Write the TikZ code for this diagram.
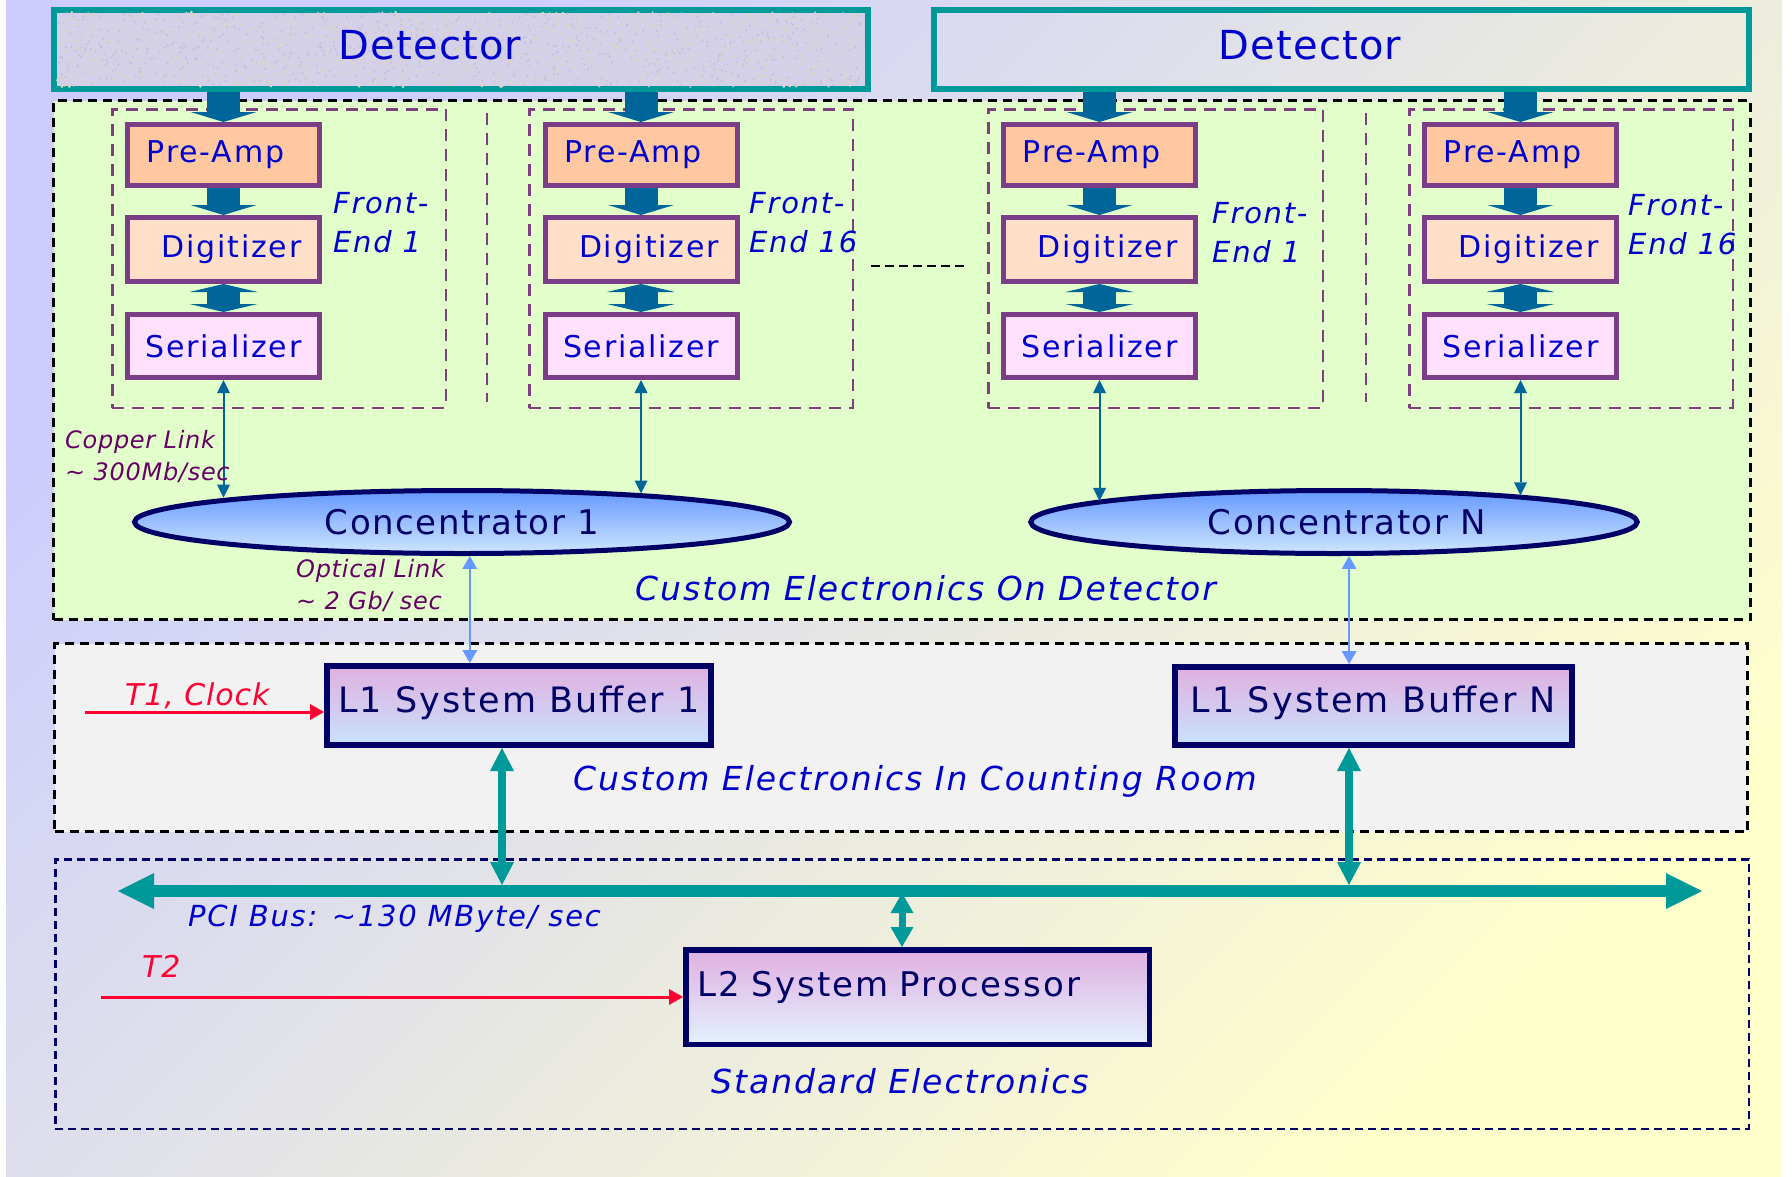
\documentclass[tikz,border=0pt]{standalone}
\usepackage{fontspec}
\setmainfont{DejaVu Sans}[LetterSpace=6.0]
\newfontfamily\tightfont{DejaVu Sans}[LetterSpace=3.0]
\newfontfamily\concfont{DejaVu Sans}[LetterSpace=4.5]
\usetikzlibrary{arrows.meta,shapes.geometric}

\definecolor{bgLav}{HTML}{CCCCFF}
\definecolor{bgYel}{HTML}{FFFFCC}
\definecolor{detTeal}{HTML}{009999}
\definecolor{detStone}{HTML}{D3D0E8}
\definecolor{speckA}{HTML}{DDD5C4}
\definecolor{speckB}{HTML}{C4C0D8}
\definecolor{onDetGreen}{HTML}{E2FFCB}
\definecolor{roomGrey}{HTML}{F2F2F2}
\definecolor{stdNavy}{HTML}{000066}
\definecolor{fePurple}{HTML}{7F3F7F}
\definecolor{boxPurple}{HTML}{7B3D87}
\definecolor{preampFill}{HTML}{FFC8A0}
\definecolor{digiFill}{HTML}{FFDFC8}
\definecolor{serFill}{HTML}{FFE0FF}
\definecolor{textBlue}{HTML}{0000CC}
\definecolor{flowBlue}{HTML}{006699}
\definecolor{opticBlue}{HTML}{6699FF}
\definecolor{linkPurple}{HTML}{660066}
\definecolor{sigRed}{HTML}{FF0033}
\definecolor{concTop}{HTML}{6699FF}
\definecolor{concBot}{HTML}{CFE6FF}
\definecolor{bufTop}{HTML}{E0B0E0}
\definecolor{bufBot}{HTML}{C8E2FC}
\definecolor{procBot}{HTML}{E3F1FF}

\newcommand\fsz[2]{\fontsize{#1}{#2}\selectfont}

\begin{document}
\begin{tikzpicture}[x=1pt, y=-1pt,
  region/.style={rectangle, draw=black, line width=3pt,
    dash pattern=on 9pt off 6pt, inner sep=0pt},
  stdregion/.style={rectangle, draw=stdNavy, line width=2.5pt,
    dash pattern=on 8pt off 5pt, inner sep=0pt},
  detbox/.style={rectangle, draw=detTeal, line width=6pt, inner sep=0pt},
  dettext/.style={inner sep=0pt, text=textBlue, font=\tightfont\fsz{40}{46}},
  febox/.style={rectangle, draw=fePurple, line width=2.5pt,
    dash pattern=on 12pt off 8pt, inner sep=0pt, minimum height=298.5pt},
  fedash/.style={draw=fePurple, line width=2.5pt, dash pattern=on 12pt off 8pt},
  gapdash/.style={draw=black, line width=2.5pt, dash pattern=on 9pt off 5pt},
  stage/.style={rectangle, draw=boxPurple, line width=5pt, inner sep=0pt,
    minimum width=192pt, text=textBlue, font=\fsz{30}{36}},
  preamp/.style={stage, fill=preampFill, minimum height=61pt},
  digi/.style={stage, fill=digiFill, minimum height=64pt},
  ser/.style={stage, fill=serFill, minimum height=63pt},
  felabel/.style={anchor=north west, inner sep=0pt, align=left,
    text=textBlue, font=\fsz{29}{39}\itshape},
  linklabel/.style={anchor=north west, inner sep=0pt, align=left,
    text=linkPurple, font=\tightfont\fsz{24}{32}\itshape},
  conc/.style={ellipse, draw=stdNavy, line width=5pt, inner sep=0pt,
    top color=concTop, bottom color=concBot, minimum height=63pt,
    text=stdNavy, font=\concfont\fsz{34}{40}},
  regionlabel/.style={anchor=base west, inner sep=0pt, text=textBlue,
    font=\fsz{33}{40}\itshape},
  siglabel/.style={anchor=base west, inner sep=0pt, text=sigRed,
    font=\tightfont\fsz{30}{36}\itshape},
  l1box/.style={rectangle, draw=stdNavy, line width=6pt, inner sep=0pt,
    top color=bufTop, bottom color=bufBot, text=stdNavy,
    font=\fsz{35}{40}, text height=26pt, text depth=13pt},
  l2box/.style={rectangle, draw=stdNavy, line width=5.5pt, inner xsep=12pt,
    inner ysep=0pt, top color=bufTop, bottom color=procBot, text=stdNavy,
    font=\fsz{34}{40}, text width=439.5pt, align=left,
    text height=25pt, text depth=27pt, minimum height=94.5pt},
  fatarrow/.style={draw=flowBlue, line width=33pt,
    -{Triangle[width=66pt,length=10pt,line width=0pt]}},
  fatdouble/.style={draw=flowBlue, line width=33pt,
    {Triangle[width=68pt,length=8pt,line width=0pt]}-{Triangle[width=68pt,length=8pt,line width=0pt]}},
  cuarrow/.style={draw=flowBlue, line width=2pt,
    {Triangle[width=13pt,length=13pt,line width=0pt]}-{Triangle[width=13pt,length=13pt,line width=0pt]}},
  optarrow/.style={draw=opticBlue, line width=2pt,
    {Triangle[width=15pt,length=13pt,line width=0pt]}-{Triangle[width=15pt,length=13pt,line width=0pt]}},
  sigarrow/.style={draw=sigRed, line width=3pt,
    -{Triangle[width=16pt,length=14pt,line width=0pt]}},
  busarrow/.style={draw=detTeal, line width=12pt,
    {Triangle[width=36pt,length=36pt,line width=0pt]}-{Triangle[width=36pt,length=36pt,line width=0pt]}},
  linkarrow/.style={draw=detTeal, line width=8pt,
    {Triangle[width=24pt,length=23pt,line width=0pt]}-{Triangle[width=24pt,length=23pt,line width=0pt]}},
  procarrow/.style={draw=detTeal, line width=7pt,
    {Triangle[width=23pt,length=20pt,line width=0pt]}-{Triangle[width=23pt,length=20pt,line width=0pt]}}
]
\useasboundingbox (0,0) rectangle (1792,1176);
\fill[white] (0,0) rectangle (1792,1176);
% slide background
\shade[top color=bgLav, bottom color=bgYel, shading angle=45] (6,0) rectangle (1782,1176);

% three areas
\node[region, fill=onDetGreen, minimum width=1697pt, minimum height=519pt] (ondet) at (902,360) {};
\node[region, fill=roomGrey, minimum width=1693pt, minimum height=188pt] (room) at (901,737.5) {};
\node[stdregion, minimum width=1693.5pt, minimum height=269.5pt] (std) at (902,994) {};

% detectors
\node[detbox, fill=detStone, minimum width=814pt, minimum height=79pt] (det1) at (461,49.5) {};
\pgfmathsetseed{11}
\foreach \k in {1,...,700}{
  \fill[speckA] ({57+808*rnd},{12+75*rnd}) circle[radius=1.4pt];
  \fill[speckB] ({57+808*rnd},{12+75*rnd}) circle[radius=1.1pt];
}
\node[detbox, minimum width=815pt, minimum height=79pt] (det2) at (1341.5,49.5) {};
\node[dettext] (det1txt) at (430,45.5) {Detector};
\node[dettext] (det2txt) at (1310,45.5) {Detector};

% front-end groups
\node[febox, minimum width=333.5pt] (fe1a) at (279,258.5) {};
\node[febox, minimum width=323.5pt] (fe16a) at (691,258.5) {};
\node[febox, minimum width=334.5pt] (fe1b) at (1155.5,258.5) {};
\node[febox, minimum width=323.5pt] (fe16b) at (1571,258.5) {};
\draw[fedash] (487,113) -- (487,402);
\draw[fedash] (1366,113) -- (1366,402);
\draw[gapdash] (871,266) -- (965,266);

% channel boxes
\node[preamp] (pa1) at (223.5,155) {Pre-Amp\hspace*{16pt}};
\node[digi] (dg1) at (223.5,249.5) {\hspace*{16pt}Digitizer};
\node[ser] (sr1) at (223.5,346) {Serializer};
\node[preamp] (pa2) at (641,155) {Pre-Amp\hspace*{16pt}};
\node[digi] (dg2) at (641,249.5) {\hspace*{16pt}Digitizer};
\node[ser] (sr2) at (641,346) {Serializer};
\node[preamp] (pa3) at (1099.5,155) {Pre-Amp\hspace*{16pt}};
\node[digi] (dg3) at (1099.5,249.5) {\hspace*{16pt}Digitizer};
\node[ser] (sr3) at (1099.5,346) {Serializer};
\node[preamp] (pa4) at (1520.5,155) {Pre-Amp\hspace*{16pt}};
\node[digi] (dg4) at (1520.5,249.5) {\hspace*{16pt}Digitizer};
\node[ser] (sr4) at (1520.5,346) {Serializer};

\node[felabel] (fl1) at (333,192) {Front-\\End 1};
\node[felabel] (fl2) at (749,192) {Front-\\End 16};
\node[felabel] (fl3) at (1212,202) {Front-\\End 1};
\node[felabel] (fl4) at (1628,194) {Front-\\End 16};

% data flow inside the front ends
\draw[fatarrow] (det1.south -| pa1.north) -- (pa1.north);
\draw[fatarrow] (det1.south -| pa2.north) -- (pa2.north);
\draw[fatarrow] (det2.south -| pa3.north) -- (pa3.north);
\draw[fatarrow] (det2.south -| pa4.north) -- (pa4.north);
\foreach \c in {1,2,3,4}{
  \draw[fatarrow] (pa\c.south) -- (dg\c.north);
  \draw[fatdouble] (dg\c.south) -- (sr\c.north);
}

% concentrators
\node[conc, minimum width=655pt] (conc1) at (462,522) {Concentrator 1};
\node[conc, minimum width=606.5pt] (concN) at (1334,522) {\hspace*{26pt}Concentrator N};

\draw[cuarrow] (sr1.south) -- (sr1.south |- conc1.174);
\draw[cuarrow] (sr2.south) -- (sr2.south |- conc1.9);
\draw[cuarrow] (sr3.south) -- (sr3.south |- concN.175);
\draw[cuarrow] (sr4.south) -- (sr4.south |- concN.8);

\node[linklabel] (cu) at (65,430) {Copper Link\\\textasciitilde\ 300Mb/sec};
\node[linklabel] (opt) at (296,559) {Optical Link\\\textasciitilde\ 2 Gb/ sec};

\node[regionlabel] (ondetlbl) at (635,600) {Custom Electronics On Detector};

% counting room
\node[l1box, minimum width=384pt, minimum height=79pt] (l1a) at (519,705.5) {L1 System Buffer 1};
\node[l1box, minimum width=397pt, minimum height=78pt] (l1n) at (1373.5,706) {L1 System Buffer N};

\draw[optarrow] (conc1.283) -- (conc1.283 |- l1a.north);
\draw[optarrow] (concN.294) -- (concN.294 |- l1n.north);

\coordinate (t1src) at (85,712);
\draw[sigarrow] (t1src) -- (t1src -| l1a.west);
\node[siglabel] (t1lbl) at (125,705) {T1, Clock};

\node[regionlabel] (roomlbl) at (573,790) {Custom Electronics In Counting Room};

% standard electronics
\coordinate (busL) at (118,891);
\coordinate (busR) at (1702,891);
\draw[busarrow] (busL) -- (busR);
\node[anchor=base west, inner sep=0pt, text=textBlue, font=\fsz{29}{36}\itshape] (pcilbl) at (188,926) {PCI Bus: \textasciitilde130 MByte/ sec};

\node[l2box] (l2) at (917.5,997) {L2 System Processor};

\coordinate (j1) at (502,885);
\coordinate (jN) at (1349,885);
\coordinate (j2) at (902,893);
\draw[linkarrow] (j1 |- l1a.south) -- (j1);
\draw[linkarrow] (jN |- l1n.south) -- (jN);
\draw[procarrow] (j2) -- (j2 |- l2.north);

\coordinate (t2src) at (101,997);
\draw[sigarrow] (t2src) -- (t2src -| l2.west);
\node[siglabel] (t2lbl) at (142,977) {T2};

\node[regionlabel] (stdlbl) at (711,1093) {Standard Electronics};
\end{tikzpicture}
\end{document}
